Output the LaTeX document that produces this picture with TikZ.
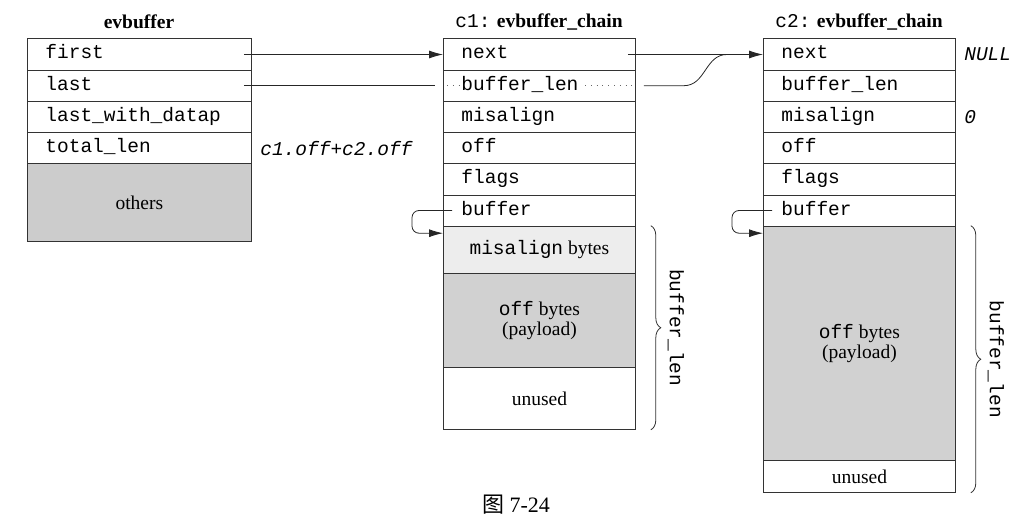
\documentclass[tikz,border=0pt]{standalone}
\usepackage{fontspec}
\setmainfont{Liberation Serif}
\setmonofont{Liberation Mono}
\newfontfamily\cjkfont{Noto Sans CJK SC}
\usetikzlibrary{arrows.meta,calc,decorations.pathreplacing}
\newcommand{\cellfont}{\fontsize{19.5}{20}\selectfont\ttfamily}
\newcommand{\txtfont}{\fontsize{19.5}{20}\selectfont\rmfamily}
\tikzset{
  cell/.style={draw=black!80, line width=0.8pt, anchor=north west, minimum height=31.2pt,
    inner xsep=18pt, inner ysep=0pt, align=left, font=\cellfont, text height=13pt, text depth=4pt},
  ebcell/.style={cell, text width=188pt},
  chcell/.style={cell, text width=156pt},
  block/.style={draw=black!80, line width=0.8pt, anchor=north west, minimum width=192pt,
    inner sep=0pt, align=center, font=\txtfont},
  conn/.style={draw=black!85, line width=0.8pt},
  tip/.style={-{Latex[length=14pt,width=8pt]}},
  brc/.style={draw=black!80, line width=0.8pt, decorate, decoration={brace, amplitude=10pt}},
  title/.style={font=\fontsize{19.5}{20}\selectfont\bfseries},
  anno/.style={anchor=west, font=\fontsize{19.5}{20}\selectfont\ttfamily\itshape},
}
\begin{document}
\begin{tikzpicture}[x=1pt, y=-1pt]
\useasboundingbox (0,0) rectangle (1024,524);

% evbuffer
\node[title] (ebt) at (139,22) {evbuffer};
\node[ebcell] (eb1) at (27,38.5) {first};
\node[ebcell] (eb2) at (27,69.7) {last};
\node[ebcell] (eb3) at (27,100.9) {last\_with\_datap};
\node[ebcell] (eb4) at (27,132.1) {total\_len};
\node[block, minimum width=224pt, minimum height=77.7pt, fill=black!20] (ebo) at (27,163.3) {others};
\node[anno] (tot) at ([xshift=5pt]eb4.east) {c1.off+c2.off};

% c1
\node[title] (c1t) at (539,22) {{\ttfamily\mdseries c1:} evbuffer\_chain};
\node[chcell] (c1n) at (443,38.5) {next};
\node[chcell] (c1bl) at (443,69.7) {buffer\_len};
\node[chcell] (c1m) at (443,100.9) {misalign};
\node[chcell] (c1o) at (443,132.1) {off};
\node[chcell] (c1f) at (443,163.3) {flags};
\node[chcell] (c1b) at (443,194.5) {buffer};
\node[block, minimum height=47.3pt, fill=black!7] (c1mis) at (443,225.7) {{\ttfamily misalign} bytes};
\node[block, minimum height=94pt, fill=black!18] (c1off) at (443,273) {{\ttfamily off} bytes\\(payload)};
\node[block, minimum height=62pt] (c1un) at (443,367) {unused};

% c2
\node[title] (c2t) at (859,22) {{\ttfamily\mdseries c2:} evbuffer\_chain};
\node[chcell] (c2n) at (763,38.5) {next};
\node[chcell] (c2bl) at (763,69.7) {buffer\_len};
\node[chcell] (c2m) at (763,100.9) {misalign};
\node[chcell] (c2o) at (763,132.1) {off};
\node[chcell] (c2f) at (763,163.3) {flags};
\node[chcell] (c2b) at (763,194.5) {buffer};
\node[block, minimum height=234.3pt, fill=black!18] (c2off) at (763,225.7) {{\ttfamily off} bytes\\(payload)};
\node[block, minimum height=32pt] (c2un) at (763,460) {unused};
\node[anno] (null) at ([xshift=5pt]c2n.east) {NULL};
\node[anno] (zero) at ([xshift=5pt]c2m.east) {0};

% connectors
\draw[conn, tip] ([xshift=-8pt]eb1.east) -- (c1n.west);
\draw[conn] ([xshift=-8pt]eb2.east) -- ([xshift=-8pt]c1bl.west);
\draw[black!60, line width=0.8pt, dash pattern=on 0.8pt off 5pt] ([xshift=4pt]c1bl.west) -- ([xshift=16pt]c1bl.west);
\draw[black!60, line width=0.8pt, dash pattern=on 0.8pt off 5pt] ([xshift=142pt]c1bl.west) -- ([xshift=-4pt]c1bl.east);
\draw[conn, tip] ([xshift=-8pt]c1n.east) -- (c2n.west);
\draw[conn] ([xshift=8pt]c1bl.east) -- ++(40,0) .. controls +(22,0) and +(-22,0) .. ([xshift=-36pt]c2n.west);

\draw[conn, tip, rounded corners=7pt] ([xshift=9pt]c1b.west) -- ++(-40,0) |- ([yshift=-7.5pt]c1mis.north west);
\draw[conn, tip, rounded corners=7pt] ([xshift=9pt]c2b.west) -- ++(-40,0) |- ([yshift=-7.5pt]c2off.north west);

% braces
\draw[brc] ([xshift=15pt]c1mis.north east) -- ([xshift=15pt]c1un.south east);
\node[rotate=-90, font=\cellfont] (c1len) at ($(c1mis.north east)!0.5!(c1un.south east)+(40,0)$) {buffer\_len};
\draw[brc] ([xshift=15pt]c2off.north east) -- ([xshift=15pt]c2un.south east);
\node[rotate=-90, font=\cellfont] (c2len) at ($(c2off.north east)!0.5!(c2un.south east)+(40,0)$) {buffer\_len};

% caption
\node[font=\fontsize{22}{24}\selectfont\rmfamily] (cap) at (516,505) {{\cjkfont 图} 7-24};
\end{tikzpicture}
\end{document}
